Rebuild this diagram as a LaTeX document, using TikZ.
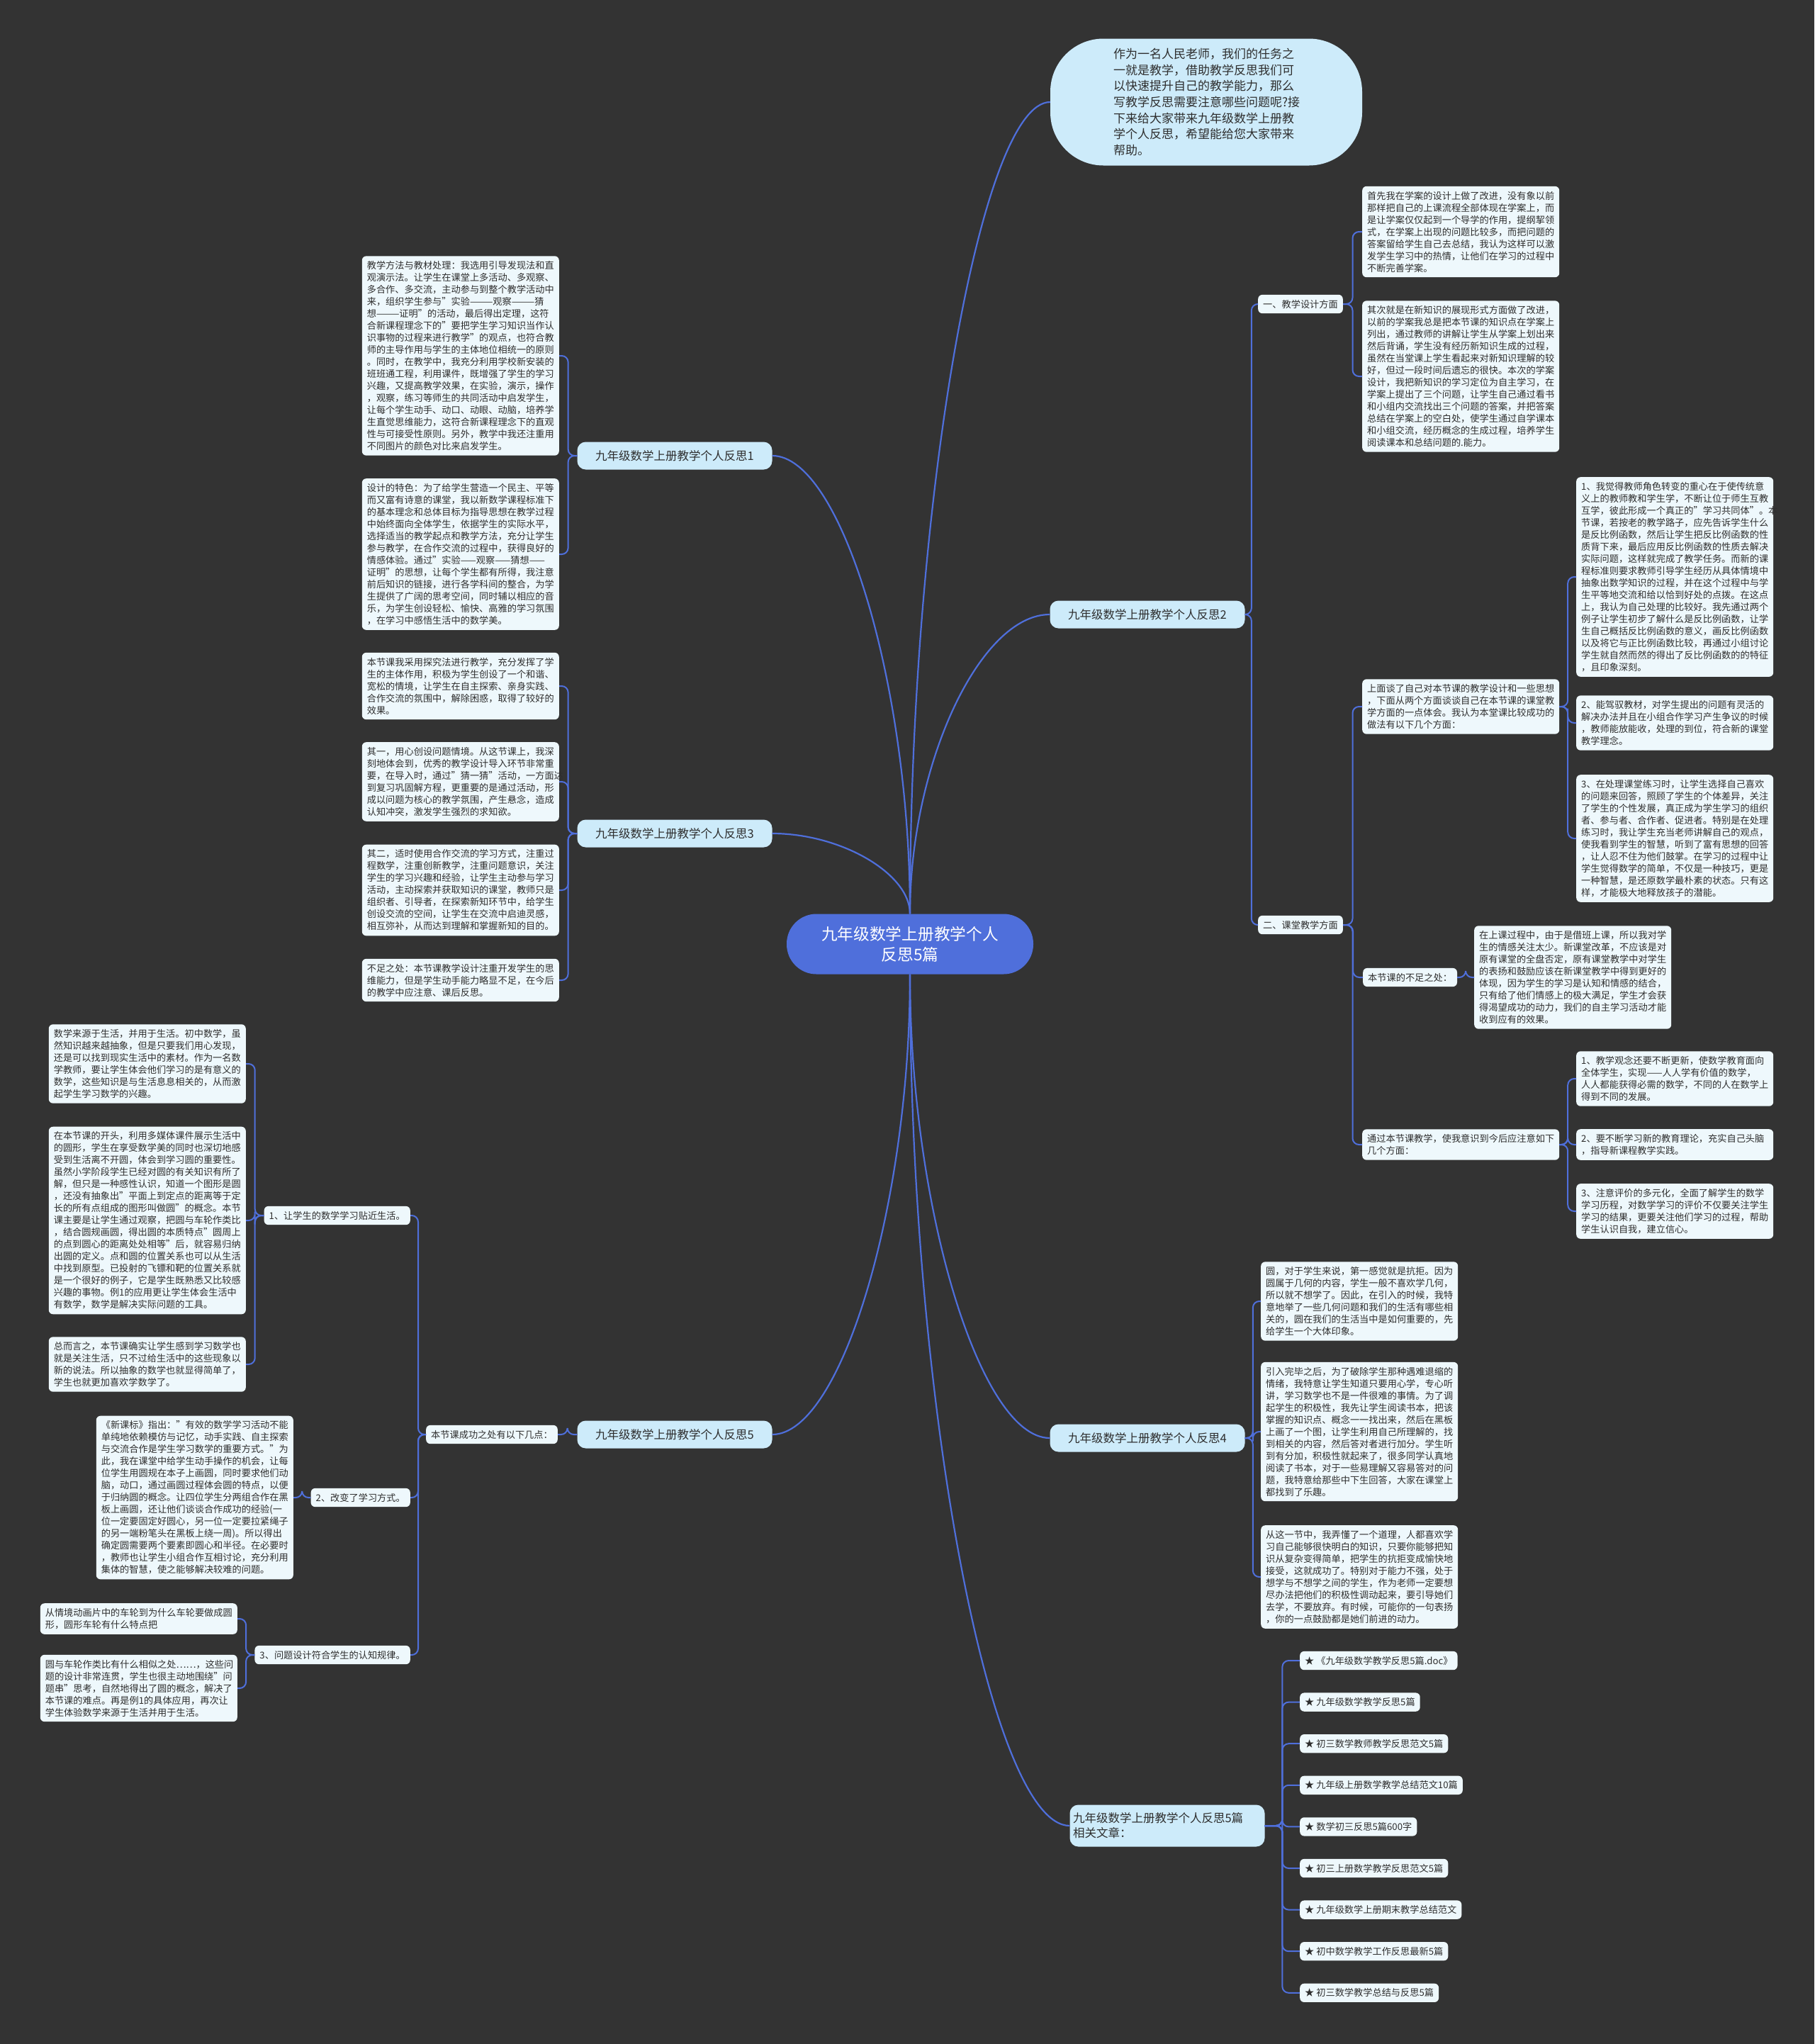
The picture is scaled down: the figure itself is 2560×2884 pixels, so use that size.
\documentclass[tikz,border=0pt]{standalone}
\usepackage{fontspec}
\setmainfont{Noto Sans CJK SC}
\usepackage{tikz}
\usetikzlibrary{positioning, calc}

\definecolor{bgdark}{HTML}{333333}
\definecolor{linkblue}{HTML}{4F6FDB}
\definecolor{topicfill}{HTML}{CDEBFA}
\definecolor{leaffill}{HTML}{EEF8FC}
\definecolor{inkgray}{HTML}{2E2E2E}

\begin{document}
\begin{tikzpicture}[
    x=1pt, y=-1pt,
    hub/.style={fill=linkblue, text=white, rounded corners=42pt, minimum width=348pt, minimum height=85pt, align=center, font=\fontsize{22.7}{29}\selectfont},
    intro/.style={fill=topicfill, text=inkgray, rounded corners=75pt, minimum width=440pt, minimum height=179pt, text width=262pt, align=left, font=\fontsize{17}{22.7}\selectfont},
    topic/.style={fill=topicfill, text=inkgray, rounded corners=12pt, minimum width=275pt, minimum height=39pt, font=\fontsize{16.5}{21}\selectfont},
    subtopic/.style={fill=leaffill, text=inkgray, rounded corners=6pt, inner xsep=7pt, inner ysep=7pt, font=\fontsize{13.2}{17}\selectfont},
    leaf/.style={subtopic, text width=264pt, align=left},
    trunk/.style={draw=linkblue, line width=2.2pt},
    elbow/.style={draw=linkblue, line width=2pt, rounded corners=9pt}
]
    \fill[bgdark] (0,0) rectangle (2560,2884);
    \useasboundingbox (0,0) rectangle (2560,2884);

    % centre
    \node[hub] (hub) at (1284,1332) {九年级数学上册教学个人\\反思5篇};

    % right side
    \node[intro] (intro) at (1702,144) {作为一名人民老师，我们的任务之\\一就是教学，借助教学反思我们可\\以快速提升自己的教学能力，那么\\写教学反思需要注意哪些问题呢?接\\下来给大家带来九年级数学上册教\\学个人反思，希望能给您大家带来\\帮助。};
    \node[topic] (r2) at (1619,867) {九年级数学上册教学个人反思2};
    \node[topic] (r4) at (1619,2029) {九年级数学上册教学个人反思4};
    \node[topic, align=left, text width=266pt, minimum height=59pt] (rel) at (1647,2576) {九年级数学上册教学个人反思5篇\\相关文章：};

    \node[subtopic, anchor=west] (r2a) at (1775,429) {一、教学设计方面};
    \node[subtopic, anchor=west] (r2b) at (1775,1305) {二、课堂教学方面};

    \node[leaf, anchor=west] (ra) at (1922,327) {首先我在学案的设计上做了改进，没有象以前\\那样把自己的上课流程全部体现在学案上，而\\是让学案仅仅起到一个导学的作用，提纲挈领\\式，在学案上出现的问题比较多，而把问题的\\答案留给学生自己去总结，我认为这样可以激\\发学生学习中的热情，让他们在学习的过程中\\不断完善学案。};
    \node[leaf, anchor=west] (rb) at (1922,531) {其次就是在新知识的展现形式方面做了改进，\\以前的学案我总是把本节课的知识点在学案上\\列出，通过教师的讲解让学生从学案上划出来\\然后背诵，学生没有经历新知识生成的过程，\\虽然在当堂课上学生看起来对新知识理解的较\\好，但过一段时间后遗忘的很快。本次的学案\\设计，我把新知识的学习定位为自主学习，在\\学案上提出了三个问题，让学生自己通过看书\\和小组内交流找出三个问题的答案，并把答案\\总结在学案上的空白处，使学生通过自学课本\\和小组交流，经历概念的生成过程，培养学生\\阅读课本和总结问题的.能力。};

    \node[leaf, anchor=west] (rc) at (1922,997) {上面谈了自己对本节课的教学设计和一些思想\\，下面从两个方面谈谈自己在本节课的课堂教\\学方面的一点体会。我认为本堂课比较成功的\\做法有以下几个方面：};
    \node[subtopic, anchor=west] (rd) at (1923,1379) {本节课的不足之处：};
    \node[leaf, anchor=west] (re) at (1922,1615) {通过本节课教学，使我意识到今后应注意如下\\几个方面：};

    \node[leaf, anchor=west] (rc1) at (2224,814) {1、我觉得教师角色转变的重心在于使传统意\\义上的教师教和学生学，不断让位于师生互教\\互学，彼此形成一个真正的"学习共同体"。本\\节课，若按老的教学路子，应先告诉学生什么\\是反比例函数，然后让学生把反比例函数的性\\质背下来，最后应用反比例函数的性质去解决\\实际问题，这样就完成了教学任务。而新的课\\程标准则要求教师引导学生经历从具体情境中\\抽象出数学知识的过程，并在这个过程中与学\\生平等地交流和给以恰到好处的点拨。在这点\\上，我认为自己处理的比较好。我先通过两个\\例子让学生初步了解什么是反比例函数，让学\\生自己概括反比例函数的意义，画反比例函数\\以及将它与正比例函数比较，再通过小组讨论\\学生就自然而然的得出了反比例函数的的特征\\，且印象深刻。};
    \node[leaf, anchor=west] (rc2) at (2224,1020) {2、能驾驭教材，对学生提出的问题有灵活的\\解决办法并且在小组合作学习产生争议的时候\\，教师能放能收，处理的到位，符合新的课堂\\教学理念。};
    \node[leaf, anchor=west] (rc3) at (2224,1183) {3、在处理课堂练习时，让学生选择自己喜欢\\的问题来回答，照顾了学生的个体差异，关注\\了学生的个性发展，真正成为学生学习的组织\\者、参与者、合作者、促进者。特别是在处理\\练习时，我让学生充当老师讲解自己的观点，\\使我看到学生的智慧，听到了富有思想的回答\\，让人忍不住为他们鼓掌。在学习的过程中让\\学生觉得数学的简单，不仅是一种技巧，更是\\一种智慧，是还原数学最朴素的状态。只有这\\样，才能极大地释放孩子的潜能。};
    \node[leaf, anchor=west] (rd1) at (2080,1379) {在上课过程中，由于是借班上课，所以我对学\\生的情感关注太少。新课堂改革，不应该是对\\原有课堂的全盘否定，原有课堂教学中对学生\\的表扬和鼓励应该在新课堂教学中得到更好的\\体现，因为学生的学习是认知和情感的结合，\\只有给了他们情感上的极大满足，学生才会获\\得渴望成功的动力，我们的自主学习活动才能\\收到应有的效果。};
    \node[leaf, anchor=west] (re1) at (2224,1522) {1、教学观念还要不断更新，使数学教育面向\\全体学生，实现——人人学有价值的数学，\\人人都能获得必需的数学，不同的人在数学上\\得到不同的发展。};
    \node[leaf, anchor=west] (re2) at (2224,1615) {2、要不断学习新的教育理论，充实自己头脑\\，指导新课程教学实践。};
    \node[leaf, anchor=west] (re3) at (2224,1709) {3、注意评价的多元化，全面了解学生的数学\\学习历程，对数学学习的评价不仅要关注学生\\学习的结果，更要关注他们学习的过程，帮助\\学生认识自我，建立信心。};

    \node[leaf, anchor=west] (rf1) at (1779,1836) {圆，对于学生来说，第一感觉就是抗拒。因为\\圆属于几何的内容，学生一般不喜欢学几何，\\所以就不想学了。因此，在引入的时候，我特\\意地举了一些几何问题和我们的生活有哪些相\\关的，圆在我们的生活当中是如何重要的，先\\给学生一个大体印象。};
    \node[leaf, anchor=west] (rf2) at (1779,2020) {引入完毕之后，为了破除学生那种遇难退缩的\\情绪，我特意让学生知道只要用心学，专心听\\讲，学习数学也不是一件很难的事情。为了调\\起学生的积极性，我先让学生阅读书本，把该\\掌握的知识点、概念一一找出来，然后在黑板\\上画了一个图，让学生利用自己所理解的，找\\到相关的内容，然后答对者进行加分。学生听\\到有分加，积极性就起来了，很多同学认真地\\阅读了书本，对于一些易理解又容易答对的问\\题，我特意给那些中下生回答，大家在课堂上\\都找到了乐趣。};
    \node[leaf, anchor=west] (rf3) at (1779,2225) {从这一节中，我弄懂了一个道理，人都喜欢学\\习自己能够很快明白的知识，只要你能够把知\\识从复杂变得简单，把学生的抗拒变成愉快地\\接受，这就成功了。特别对于能力不强，处于\\想学与不想学之间的学生，作为老师一定要想\\尽办法把他们的积极性调动起来，要引导她们\\去学，不要放弃。有时候，可能你的一句表扬\\，你的一点鼓励都是她们前进的动力。};

    % related articles
    \foreach \txt [count=\i] in {《九年级数学教学反思5篇.doc》, 九年级数学教学反思5篇, 初三数学教师教学反思范文5篇, 九年级上册数学教学总结范文10篇, 数学初三反思5篇600字, 初三上册数学教学反思范文5篇, 九年级数学上册期末教学总结范文, 初中数学教学工作反思最新5篇, 初三数学教学总结与反思5篇}
        \node[subtopic, anchor=west] (rel\i) at (1834,{2343+58.6*(\i-1)}) {★ \txt};

    % left side
    \node[topic] (r1) at (952,643) {九年级数学上册教学个人反思1};
    \node[topic] (r3) at (952,1176) {九年级数学上册教学个人反思3};
    \node[topic] (r5) at (952,2024) {九年级数学上册教学个人反思5};

    \node[leaf, anchor=east] (la) at (789,502) {教学方法与教材处理：我选用引导发现法和直\\观演示法。让学生在课堂上多活动、多观察、\\多合作、多交流，主动参与到整个教学活动中\\来，组织学生参与"实验———观察———猜\\想———证明"的活动，最后得出定理，这符\\合新课程理念下的"要把学生学习知识当作认\\识事物的过程来进行教学"的观点，也符合教\\师的主导作用与学生的主体地位相统一的原则\\。同时，在教学中，我充分利用学校新安装的\\班班通工程，利用课件，既增强了学生的学习\\兴趣，又提高教学效果，在实验，演示，操作\\，观察，练习等师生的共同活动中启发学生，\\让每个学生动手、动口、动眼、动脑，培养学\\生直觉思维能力，这符合新课程理念下的直观\\性与可接受性原则。另外，教学中我还注重用\\不同图片的颜色对比来启发学生。};
    \node[leaf, anchor=east] (lb) at (789,782) {设计的特色：为了给学生营造一个民主、平等\\而又富有诗意的课堂，我以新数学课程标准下\\的基本理念和总体目标为指导思想在教学过程\\中始终面向全体学生，依据学生的实际水平，\\选择适当的教学起点和教学方法，充分让学生\\参与教学，在合作交流的过程中，获得良好的\\情感体验。通过"实验——观察——猜想——\\证明"的思想，让每个学生都有所得，我注意\\前后知识的链接，进行各学科间的整合，为学\\生提供了广阔的思考空间，同时辅以相应的音\\乐，为学生创设轻松、愉快、高雅的学习氛围\\，在学习中感悟生活中的数学美。};

    \node[leaf, anchor=east] (lc) at (789,968) {本节课我采用探究法进行教学，充分发挥了学\\生的主体作用，积极为学生创设了一个和谐、\\宽松的情境，让学生在自主探索、亲身实践、\\合作交流的氛围中，解除困惑，取得了较好的\\效果。};
    \node[leaf, anchor=east] (ld) at (789,1103) {其一，用心创设问题情境。从这节课上，我深\\刻地体会到，优秀的教学设计导入环节非常重\\要，在导入时，通过"猜一猜"活动，一方面达\\到复习巩固解方程，更重要的是通过活动，形\\成以问题为核心的教学氛围，产生悬念，造成\\认知冲突，激发学生强烈的求知欲。};
    \node[leaf, anchor=east] (le) at (789,1256) {其二，适时使用合作交流的学习方式，注重过\\程数学，注重创新教学，注重问题意识，关注\\学生的学习兴趣和经验，让学生主动参与学习\\活动，主动探索并获取知识的课堂，教师只是\\组织者、引导者，在探索新知环节中，给学生\\创设交流的空间，让学生在交流中启迪灵感，\\相互弥补，从而达到理解和掌握新知的目的。};
    \node[leaf, anchor=east] (lf) at (789,1383) {不足之处：本节课教学设计注重开发学生的思\\维能力，但是学生动手能力略显不足，在今后\\的教学中应注意、课后反思。};

    \node[subtopic, anchor=east] (ls) at (787,2024) {本节课成功之处有以下几点：};
    \node[subtopic, anchor=east] (ls1) at (579,1715) {1、让学生的数学学习贴近生活。};
    \node[subtopic, anchor=east] (ls2) at (579,2113) {2、改变了学习方式。};
    \node[subtopic, anchor=east] (ls3) at (579,2335) {3、问题设计符合学生的认知规律。};

    \node[leaf, anchor=east] (lg1) at (347,1501) {数学来源于生活，并用于生活。初中数学，虽\\然知识越来越抽象，但是只要我们用心发现，\\还是可以找到现实生活中的素材。作为一名数\\学教师，要让学生体会他们学习的是有意义的\\数学，这些知识是与生活息息相关的，从而激\\起学生学习数学的兴趣。};
    \node[leaf, anchor=east] (lg2) at (347,1722) {在本节课的开头，利用多媒体课件展示生活中\\的圆形，学生在享受数学美的同时也深切地感\\受到生活离不开圆，体会到学习圆的重要性。\\虽然小学阶段学生已经对圆的有关知识有所了\\解，但只是一种感性认识，知道一个图形是圆\\，还没有抽象出"平面上到定点的距离等于定\\长的所有点组成的图形叫做圆"的概念。本节\\课主要是让学生通过观察，把圆与车轮作类比\\，结合圆规画圆，得出圆的本质特点"圆周上\\的点到圆心的距离处处相等"后，就容易归纳\\出圆的定义。点和圆的位置关系也可以从生活\\中找到原型。已投射的飞镖和靶的位置关系就\\是一个很好的例子，它是学生既熟悉又比较感\\兴趣的事物。例1的应用更让学生体会生活中\\有数学，数学是解决实际问题的工具。};
    \node[leaf, anchor=east] (lg3) at (347,1925) {总而言之，本节课确实让学生感到学习数学也\\就是关注生活，只不过给生活中的这些现象以\\新的说法。所以抽象的数学也就显得简单了，\\学生也就更加喜欢学数学了。};
    \node[leaf, anchor=east] (lh) at (414,2113) {《新课标》指出："有效的数学学习活动不能\\单纯地依赖模仿与记忆，动手实践、自主探索\\与交流合作是学生学习数学的重要方式。"为\\此，我在课堂中给学生动手操作的机会，让每\\位学生用圆规在本子上画圆，同时要求他们动\\脑，动口，通过画圆过程体会圆的特点，以便\\于归纳圆的概念。让四位学生分两组合作在黑\\板上画圆，还让他们谈谈合作成功的经验(一\\位一定要固定好圆心，另一位一定要拉紧绳子\\的另一端粉笔头在黑板上绕一周)。所以得出\\确定圆需要两个要素即圆心和半径。在必要时\\，教师也让学生小组合作互相讨论，充分利用\\集体的智慧，使之能够解决较难的问题。};
    \node[leaf, anchor=east] (li1) at (335,2284) {从情境动画片中的车轮到为什么车轮要做成圆\\形，圆形车轮有什么特点把};
    \node[leaf, anchor=east] (li2) at (335,2382) {圆与车轮作类比有什么相似之处……，这些问\\题的设计非常连贯，学生也很主动地围绕"问\\题串"思考，自然地得出了圆的概念，解决了\\本节课的难点。再是例1的具体应用，再次让\\学生体验数学来源于生活并用于生活。};

    % connectors from the centre
    \foreach \t/\s/\e in {intro/north/west, r2/north/west, r1/north/east, r3/north/east, r4/south/west, rel/south/west, r5/south/east}
        \draw[trunk] (hub.\s) .. controls ($(hub.\s)!0.5!(hub.\s |- \t.\e)$) and ($(\t.\e)!0.5!(\t.\e -| hub.\s)$) .. (\t.\e);

    % right branches
    \foreach \p/\c in {r2/r2a, r2/r2b, r2a/ra, r2a/rb, r2b/rc, r2b/rd, r2b/re, rc/rc1, rc/rc2, rc/rc3, rd/rd1, re/re1, re/re2, re/re3, r4/rf1, r4/rf2, r4/rf3, rel/rel1, rel/rel2, rel/rel3, rel/rel4, rel/rel5, rel/rel6, rel/rel7, rel/rel8, rel/rel9}
        \draw[elbow] (\p.east) -| ($(\p.east)!0.5!(\c.west)$) |- (\c.west);

    % left branches
    \foreach \p/\c in {r1/la, r1/lb, r3/lc, r3/ld, r3/le, r3/lf, r5/ls, ls/ls1, ls/ls2, ls/ls3, ls1/lg1, ls1/lg2, ls1/lg3, ls2/lh, ls3/li1, ls3/li2}
        \draw[elbow] (\p.west) -| ($(\p.west)!0.5!(\c.east)$) |- (\c.east);
\end{tikzpicture}
\end{document}
